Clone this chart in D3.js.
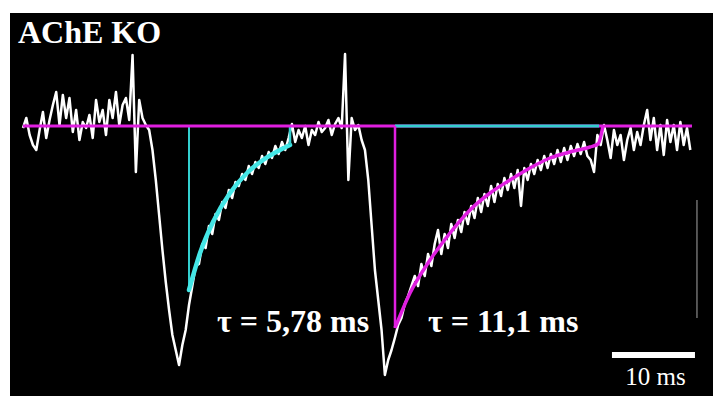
<!DOCTYPE html>
<html>
<head>
    <meta charset="utf-8" />
    <title>AChE KO</title>
    <style>
        body {
            margin: 0;
            background: #fff;
        }

        .label {
            font-family: "Liberation Serif", "Times New Roman", serif;
            fill: #fff;
        }

        .title {
            font-size: 32px;
            font-weight: bold;
        }

        .tau {
            font-size: 32px;
            font-weight: bold;
        }

        .bar-label {
            font-size: 25px;
            text-anchor: middle;
        }
    </style>
</head>
<body>
    <script src="https://d3js.org/d3.v7.min.js"></script>
    <script>
        // recorded current, one sample every 0.4 ms
        let sampleStep = 0.4

        let traceValues = [
            -2, 8, -9, -19, -24, -4, 14, -12, 6, 21,
            34, 1, 31, 8, 28, -6, 16, -14, 4, -2,
            11, -12, 26, 4, 16, -9, 26, 8, 34, 1,
            21, 28, 6, 71, -46, 26, 8, 1, -4, -24,
            -54, -89, -124, -156, -184, -209, -224, -239, -219, -204,
            -179, -160, -140, -138, -118, -122, -100, -108, -88, -94,
            -76, -82, -64, -72, -56, -60, -48, -54, -40, -48,
            -36, -42, -30, -38, -26, -32, -20, -28, -16, -24,
            -12, 2, -16, -4, -12, 0, -19, -4, -9, 4,
            -6, -2, 6, -9, 2, 8, -2, 72, -54, 8,
            -4, 1, -14, -24, -54, -99, -144, -174, -204, -249,
            -234, -224, -212, -199, -192, -178, -170, -160, -150, -160,
            -138, -150, -128, -140, -118, -104, -128, -108, -122, -98,
            -112, -94, -106, -86, -98, -80, -92, -72, -86, -68,
            -80, -60, -76, -58, -70, -52, -64, -48, -62, -44,
            -80, -42, -54, -38, -48, -34, -44, -30, -42, -28,
            -38, -24, -36, -22, -34, -20, -30, -18, -28, -16,
            -30, -34, -46, -9, -19, 1, -14, -32, -4, -19,
            -9, -34, -14, -2, -24, -6, -19, 1, 16, -14,
            8, -24, 1, -29, 6, -16, 1, -24, 4, -19,
            -2, -24
        ]

        // fitted decays (ms, current)
        let fit1Times = [20.0, 20.0, 21.33, 22.89, 24.94, 26.99, 28.92, 30.96, 32.17, 32.17]
        let fit1Values = [0, -164, -127, -96, -67, -47, -34, -24, -19, 0]

        let fit2Times = [44.82, 44.82, 46.63, 49.04, 51.45, 53.86, 56.27, 58.67, 61.08, 63.49, 65.90, 68.31, 69.28, 69.88]
        let fit2Values = [0, -202, -167, -134, -107, -84, -67, -54, -42, -32, -26, -21, -18, 0]

        let baselineRange = [0, 80.6]
        let fit2BaselineRange = [44.82, 69.4]

        let tauLabels = ['τ = 5,78 ms', 'τ = 11,1 ms']

        let timeBar = { start: 70.96, length: 10, level: -229, label: '10 ms' }
        let currentBar = { time: 81.2, from: -74, to: -192 }

        let width = 713,
            height = 396

        let magenta = '#e01fe0',
            cyan = '#33cfcf'

        let x = d3.scaleLinear()
                    .domain([0, 80])
                    .range([23, 687])

        let y = d3.scaleLinear()
                    .domain([0, -250])
                    .range([126, 376])

        let svg = d3.select('body')
                    .append('svg')
                    .attr('width', width)
                    .attr('height', height)

        svg
            .append('rect')
            .attr('x', 10)
            .attr('y', 13)
            .attr('width', width - 10)
            .attr('height', height - 13)
            .attr('fill', '#000')

        let trace = traceValues.map(function (v, i) {
            return [i * sampleStep, v]
        })

        let line = d3.line()
                    .x(function (d) { return x(d[0]) })
                    .y(function (d) { return y(d[1]) })

        svg
            .append('path')
            .datum(trace)
            .attr('d', line)
            .attr('fill', 'none')
            .attr('stroke', '#fff')
            .attr('stroke-width', 2.5)
            .attr('stroke-linejoin', 'round')

        // fit 1 (cyan)
        let fit1 = fit1Times.map(function (t, i) { return [t, fit1Values[i]] })

        svg
            .append('path')
            .datum(fit1.slice(0, 2))
            .attr('d', line)
            .attr('stroke', cyan)
            .attr('stroke-width', 2)

        svg
            .append('path')
            .datum(fit1.slice(1, 9))
            .attr('d', line.curve(d3.curveMonotoneX))
            .attr('fill', 'none')
            .attr('stroke', '#44e6e6')
            .attr('stroke-width', 4.5)
            .attr('stroke-linecap', 'round')

        line.curve(d3.curveLinear)

        svg
            .append('path')
            .datum(fit1.slice(8))
            .attr('d', line)
            .attr('stroke', cyan)
            .attr('stroke-width', 2.5)

        // baselines
        svg
            .append('line')
            .attr('x1', x(baselineRange[0]))
            .attr('x2', x(baselineRange[1]))
            .attr('y1', y(0))
            .attr('y2', y(0))
            .attr('stroke', magenta)
            .attr('stroke-width', 3)

        svg
            .append('line')
            .attr('x1', x(fit2BaselineRange[0]))
            .attr('x2', x(fit2BaselineRange[1]))
            .attr('y1', y(0))
            .attr('y2', y(0))
            .attr('stroke', cyan)
            .attr('stroke-width', 3)

        // fit 2 (magenta)
        let fit2 = fit2Times.map(function (t, i) { return [t, fit2Values[i]] })

        svg
            .append('path')
            .datum(fit2.slice(0, 2))
            .attr('d', line)
            .attr('stroke', magenta)
            .attr('stroke-width', 2.5)

        svg
            .append('path')
            .datum(fit2.slice(1))
            .attr('d', line.curve(d3.curveMonotoneX))
            .attr('fill', 'none')
            .attr('stroke', magenta)
            .attr('stroke-width', 3.5)
            .attr('stroke-linejoin', 'round')

        // labels
        svg
            .append('text')
            .attr('class', 'label title')
            .attr('x', 18)
            .attr('y', 43)
            .text('AChE KO')

        svg
            .selectAll('.tau')
            .data(tauLabels)
            .enter()
                .append('text')
                .attr('class', 'label tau')
                .attr('x', function (d, i) {
                    return [217, 428][i]
                })
                .attr('y', 332)
                .text(function (d) {
                    return d
                })

        // scale bars
        svg
            .append('line')
            .attr('x1', x(timeBar.start))
            .attr('x2', x(timeBar.start + timeBar.length))
            .attr('y1', y(timeBar.level))
            .attr('y2', y(timeBar.level))
            .attr('stroke', '#fff')
            .attr('stroke-width', 6)

        svg
            .append('text')
            .attr('class', 'label bar-label')
            .attr('x', x(timeBar.start + timeBar.length / 2) + 2)
            .attr('y', 385)
            .text(timeBar.label)

        svg
            .append('line')
            .attr('x1', x(currentBar.time))
            .attr('x2', x(currentBar.time))
            .attr('y1', y(currentBar.from))
            .attr('y2', y(currentBar.to))
            .attr('stroke', '#8a8a8a')
            .attr('stroke-width', 1.2)
    </script>
</body>
</html>
